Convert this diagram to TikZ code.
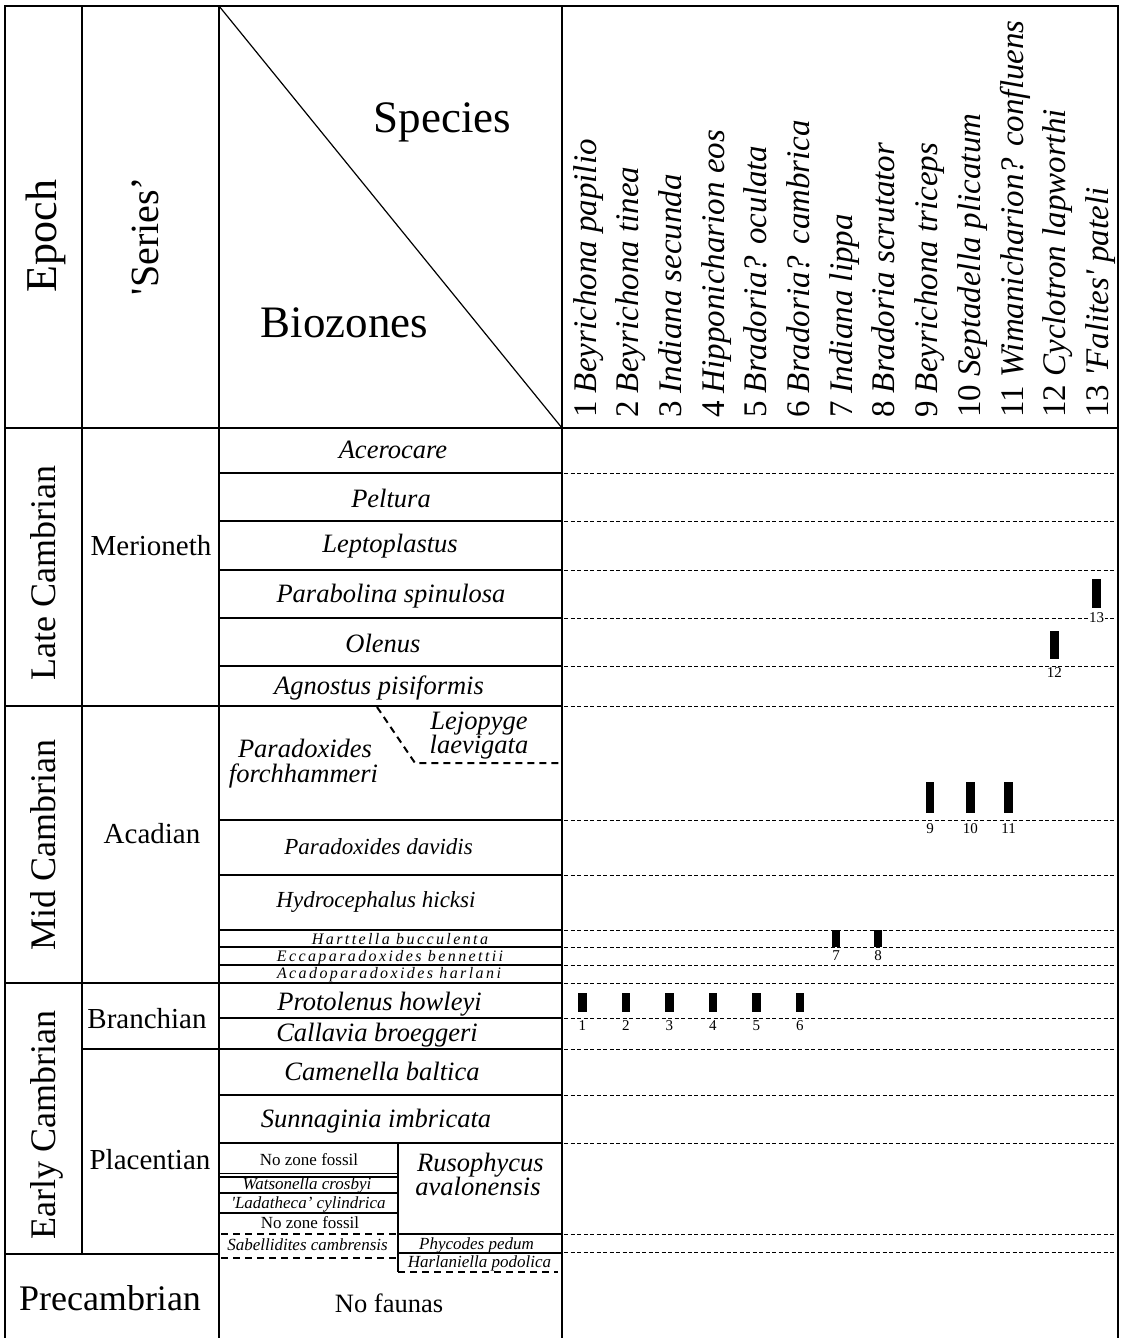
\documentclass[tikz,border=0pt]{standalone}
\usepackage{fontspec}
\setmainfont{Liberation Serif}
\newfontfamily\spacedfont[LetterSpace=15]{Liberation Serif}
\newcommand{\fsz}[1]{\fontsize{#1}{#1}\selectfont}
\newcommand{\oq}{\textquotesingle}
\begin{document}
\begin{tikzpicture}[x=1pt,y=-1pt,
  frame/.style={line width=2.6pt},
  rule/.style={line width=1.5pt},
  fdash/.style={line width=0.9pt,dash pattern=on 4pt off 2.5pt},
  bdash/.style={line width=2pt,dash pattern=on 7pt off 5pt},
  txt/.style={anchor=base,inner sep=0pt},
  big/.style={txt,font=\fsz{45}},
  epochlab/.style={txt,font=\fsz{36},rotate=90},
  serieslab/.style={txt,font=\fsz{29}},
  zone/.style={txt,font=\fsz{26.5}\itshape},
  mzone/.style={txt,font=\fsz{23}\itshape},
  tzone/.style={txt,font=\spacedfont\fsz{16}\itshape},
  szone/.style={txt,font=\fsz{17}\itshape},
  plainsmall/.style={txt,font=\fsz{17}},
  splabel/.style={anchor=base west,inner sep=0pt,rotate=90,font=\fsz{33}},
  bar/.style={fill=black,draw=none,minimum width=8.5pt,inner sep=0pt},
  mlabel/.style={font=\fsz{15},inner sep=1pt,fill=white}
]
\useasboundingbox (0,0) rectangle (1124,1338);

% dashed guide lines in species area
\foreach \y in {473,521,570,618,666,706,820,875,930,947,965,983,1018,1049,1095,1143,1234,1252}
  \draw[fdash] (564,\y) -- (1116,\y);

% biozone boundaries
\foreach \y in {473,521,570,618,666,820,875,930,947,965,1018,1095,1143}
  \draw[rule] (219,\y) -- (562,\y);
\draw[rule] (5,706) -- (562,706);
\draw[rule] (5,983) -- (562,983);
\draw[rule] (82,1049) -- (562,1049);
\draw[rule] (5,1254) -- (219,1254);

% Placentian subdivisions
\draw[rule] (398,1143) -- (398,1272);
\foreach \y in {1173.5,1177,1193,1213}
  \draw[line width=1.2pt] (219,\y) -- (398,\y);
\draw[rule] (398,1234) -- (562,1234);
\draw[rule] (398,1253) -- (562,1253);
\draw[bdash] (221,1233.5) -- (398,1233.5);
\draw[bdash] (221,1258) -- (396,1258);
\draw[bdash] (398,1272) -- (558,1272);

% Lejopyge boundary
\draw[bdash] (377,707) -- (415,763) -- (562,763);

% columns and frame
\draw[rule] (82,6) -- (82,1254);
\draw[rule] (219,6) -- (219,1338);
\draw[line width=1.2pt] (219,6) -- (562,428);
\draw[frame] (5,1338) -- (5,6) -- (1118,6) -- (1118,1338);
\draw[frame] (562,6) -- (562,1338);
\draw[frame] (5,428) -- (1118,428);

% header
\node[txt,font=\fsz{44},rotate=90] (hepoch) at (56,236) {Epoch};
\node[txt,font=\fsz{40},rotate=90] (hseries) at (158,236) {\oq Series'};
\node[big] (hspecies) at (442.5,132) {Species};
\node[big] (hbiozones) at (344.5,337) {Biozones};

% species labels
\foreach \i/\n in {1/Beyrichona papilio,2/Beyrichona tinea,3/Indiana secunda,4/Hipponicharion eos,5/Bradoria? oculata,6/Bradoria? cambrica,7/Indiana lippa,8/Bradoria scrutator,9/Beyrichona triceps,10/Septadella plicatum,11/Wimanicharion? confluens,12/Cyclotron lapworthi,13/\oq Falites\oq\ pateli}
  \node[splabel] (sp\i) at ({596+42.7*(\i-1)},418) {\i\ \textit{\n}};

% epochs
\node[epochlab] (late) at (55,573) {Late Cambrian};
\node[epochlab] (mid) at (55,845) {Mid Cambrian};
\node[epochlab] (early) at (55,1125) {Early Cambrian};
\node[txt,font=\fsz{36}] (precam) at (110,1310) {Precambrian};

% series
\node[serieslab] (merioneth) at (151,555) {Merioneth};
\node[serieslab] (acadian) at (152,843) {Acadian};
\node[serieslab] (branchian) at (147,1028) {Branchian};
\node[serieslab] (placentian) at (150,1169) {Placentian};

% biozones
\node[zone] (z1) at (393,458) {Acerocare};
\node[zone] (z2) at (391,507) {Peltura};
\node[zone] (z3) at (390,552) {Leptoplastus};
\node[zone] (z4) at (391,602) {Parabolina spinulosa};
\node[zone] (z5) at (383,652) {Olenus};
\node[zone] (z6) at (379,694) {Agnostus pisiformis};
\node[zone] (z7a) at (305,757) {Paradoxides};
\node[zone] (z7b) at (303.5,782) {forchhammeri};
\node[zone] (z8a) at (479,729) {Lejopyge};
\node[zone] (z8b) at (479,753) {laevigata};
\node[mzone] (z9) at (378.5,854) {Paradoxides davidis};
\node[mzone] (z10) at (376,907) {Hydrocephalus hicksi};
\node[tzone] (z11) at (400,944) {Harttella bucculenta};
\node[tzone] (z12) at (390,961) {Eccaparadoxides bennettii};
\node[tzone] (z13) at (389,978) {Acadoparadoxides harlani};
\node[zone] (z14) at (379.5,1010) {Protolenus howleyi};
\node[zone] (z15) at (377,1041) {Callavia broeggeri};
\node[zone] (z16) at (382,1080) {Camenella baltica};
\node[zone] (z17) at (376,1127) {Sunnaginia imbricata};
\node[plainsmall] (z18) at (309,1165) {No zone fossil};
\node[szone] (z19) at (307,1189) {Watsonella crosbyi};
\node[szone] (z20) at (308.5,1208) {\oq Ladatheca' cylindrica};
\node[plainsmall] (z21) at (310,1228) {No zone fossil};
\node[szone] (z22) at (307.5,1250) {Sabellidites cambrensis};
\node[zone] (z23a) at (480.5,1171) {Rusophycus};
\node[zone] (z23b) at (478,1195) {avalonensis};
\node[szone] (z24) at (476.5,1249) {Phycodes pedum};
\node[szone] (z25) at (479.5,1267) {Harlaniella podolica};
\node[txt,font=\fsz{26.5}] (z26) at (389,1312) {No faunas};

% occurrence bars and numbers
\foreach \i/\x in {1/582.3,2/625.8,3/669.4,4/712.9,5/756.4,6/799.9}{
  \node[bar,minimum height=19pt] (m\i) at (\x,1002.5) {};
  \node[mlabel] (n\i) at (\x,1026) {\i};
}
\foreach \i/\x in {7/836,8/878}{
  \node[bar,minimum height=17pt] (m\i) at (\x,938.5) {};
  \node[mlabel] (n\i) at (\x,956) {\i};
}
\foreach \i/\x in {9/930,10/970.4,11/1008.6}{
  \node[bar,minimum height=31pt] (m\i) at (\x,797.5) {};
  \node[mlabel] (n\i) at (\x,829) {\i};
}
\node[bar,minimum height=28pt] (m12) at (1054.4,645) {};
\node[mlabel] (n12) at (1054.4,673) {12};
\node[bar,minimum height=29pt] (m13) at (1096.6,593.5) {};
\node[mlabel] (n13) at (1096.6,618) {13};
\end{tikzpicture}
\end{document}
